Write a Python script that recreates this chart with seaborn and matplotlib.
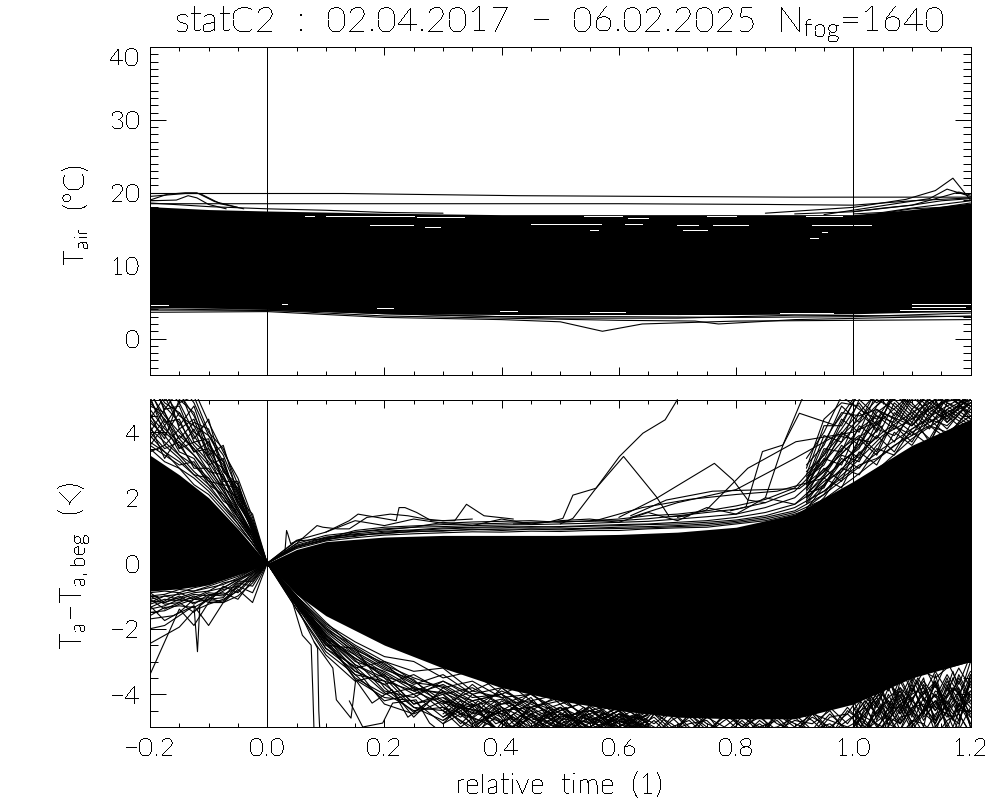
import matplotlib
matplotlib.use("Agg")
import matplotlib.pyplot as plt
import seaborn as sns
import pandas as pd
from matplotlib.ticker import MultipleLocator

sns.set_theme(style="ticks")
FONT = "Lato"
plt.rcParams.update({
    "font.family": [FONT, "DejaVu Sans"], "font.weight": 200,
    "mathtext.fontset": "custom", "mathtext.rm": "Lato:weight=200",
    "mathtext.default": "rm", "text.color": "black",
    "xtick.color": "black", "ytick.color": "black", "axes.labelcolor": "black",
    "text.antialiased": False, "axes.edgecolor": "black",
})
LW = 0.8

# ---------- top panel: air temperature ----------
band_t = [-0.2, -0.1, 0.0, 0.2, 0.4, 0.6, 0.8, 1.0, 1.1, 1.2]
band_upper = [18.1, 17.7, 17.5, 17.2, 17.0, 17.0, 17.0, 17.0, 17.7, 18.6]
band_lower = [4.3, 4.2, 4.0, 3.4, 3.3, 3.3, 3.3, 3.4, 3.6, 3.7]

air_a_t = [-0.2, 0.13, 0.43, 0.9, 1.2]
air_a_y = [19.9, 19.9, 19.6, 19.4, 19.4]
air_b_t = [-0.2, 0.6, 0.85, 1.0, 1.1, 1.2]
air_b_y = [18.5, 18.5, 18.4, 18.3, 18.9, 19.3]
air_c_t = [-0.2, -0.17, -0.14, -0.12, -0.09, -0.05]
air_c_y = [19.0, 19.8, 20.0, 20.0, 18.8, 18.0]
air_d_t = [-0.2, -0.155, -0.135, -0.12, -0.1, -0.07]
air_d_y = [18.9, 19.0, 19.6, 19.3, 18.4, 17.8]
air_e_t = [-0.2, -0.14, -0.115, -0.08, -0.04]
air_e_y = [19.5, 19.9, 19.9, 18.5, 17.8]
air_f_t = [0.85, 1.0, 1.09, 1.14, 1.17, 1.2]
air_f_y = [17.2, 18.0, 19.1, 20.3, 22.0, 19.0]
air_g_t = [0.95, 1.08, 1.13, 1.16, 1.2]
air_g_y = [17.0, 18.6, 19.2, 20.5, 19.5]
air_h_t = [1.0, 1.1, 1.15, 1.18, 1.2]
air_h_y = [17.4, 18.3, 19.4, 20.1, 19.7]
air_i_t = [-0.2, 0.0, 0.2, 0.4, 0.5, 0.572, 0.64, 0.8, 1.0, 1.2]
air_i_y = [3.6, 3.7, 2.9, 2.6, 2.3, 1.0, 2.0, 2.4, 2.5, 2.6]
air_j_t = [-0.2, 0.0, 0.2, 0.4, 0.6, 0.73, 0.77, 0.9, 1.2]
air_j_y = [3.9, 3.9, 3.1, 2.8, 2.5, 2.4, 2.0, 2.6, 3.1]
air_k_t = [-0.2, 0.0, 0.2, 0.4, 0.6, 0.8, 1.0, 1.2]
air_k_y = [4.3, 4.1, 3.4, 3.0, 3.0, 2.9, 3.0, 3.5]
air_l_t = [-0.2, 0.1, 0.3, 0.5, 0.7, 0.9, 1.1, 1.2]
air_l_y = [4.1, 3.7, 3.2, 2.8, 2.8, 3.2, 3.1, 3.0]
air_m_t = [-0.2, -0.1, 0.0, 0.1, 0.2, 0.3]
air_m_y = [18.6, 18.1, 17.8, 17.6, 17.3, 17.2]
air_n_t = [0.9, 1.0, 1.05, 1.1, 1.15, 1.2]
air_n_y = [17.1, 17.4, 17.9, 18.3, 18.9, 19.2]
air_o_t = [1.0, 1.05, 1.1, 1.15, 1.2]
air_o_y = [17.1, 17.3, 17.9, 18.4, 18.9]
air_p_t = [1.05, 1.1, 1.15, 1.2]
air_p_y = [17.2, 17.8, 18.0, 18.6]
air_q_t = [0.7, 0.9, 1.1, 1.2]
air_q_y = [3.3, 3.5, 3.7, 3.8]

white_t0 = [.175, .27, .065, .10, .255, .45, .55, .54, .615, .61, .70, .71, .76, .75, .92, .93, .946, .926,
            -.2, .025, .187, 1.1, .397, .55, .875, 1.08, 1.1]
white_t1 = [.248, .295, .08, .25, .335, .57, .565, .605, .65, .64, .735, .75, .82, .80, .98, 1.03, .955, .94,
            -.17, .034, .215, 1.2, .426, .61, .965, 1.2, 1.19]
white_y = [15.6, 15.3, 16.8, 16.8, 16.7, 15.7, 14.9, 16.8, 16.6, 15.7, 15.6, 14.9, 15.6, 16.8, 16.8, 15.6, 14.6, 13.8,
           4.66, 4.8, 4.2, 4.7, 3.8, 3.7, 3.5, 3.9, 4.3]

# ---------- bottom panel: temperature difference ----------
core_t = [-0.2, -0.15, -0.1, -0.05, 0.0, 0.05, 0.1, 0.2, 0.3, 0.4, 0.5, 0.6, 0.7, 0.8, 0.9, 1.0, 1.1, 1.2]
core_top = [3.3, 2.7, 2.0, 1.05, 0.0, 0.42, 0.66, 0.8, 0.85, 0.85, 0.85, 0.88, 0.95, 1.1, 1.5, 2.5, 3.6, 4.4]
core_bot = [-0.85, -0.78, -0.65, -0.35, 0.0, -0.95, -1.6, -2.5, -3.2, -3.8, -4.2, -4.5, -4.7, -4.75, -4.75, -4.3, -3.5, -3.0]

t_left = [-0.2, -0.175, -0.15, -0.125, -0.1, -0.075, -0.05, -0.025, 0.0]
left_upper = [
    [3.5, 3.1, 2.9, 2.4, 2.1, 1.6, 1.1, 0.6, 0],
    [3.7, 3.4, 2.9, 2.6, 2.2, 1.7, 1.2, 0.6, 0], [3.9, 3.4, 3.1, 2.7, 2.3, 1.8, 1.2, 0.6, 0],
    [4.1, 3.7, 3.3, 2.8, 2.4, 1.8, 1.3, 0.7, 0], [4.3, 3.9, 3.3, 3.0, 2.5, 2.0, 1.3, 0.7, 0],
    [4.5, 4.0, 3.6, 3.0, 2.6, 2.0, 1.4, 0.7, 0], [4.7, 4.1, 3.7, 3.3, 2.7, 2.1, 1.4, 0.8, 0],
    [4.9, 4.4, 3.8, 3.3, 2.8, 2.2, 1.5, 0.8, 0], [5.2, 4.5, 4.0, 3.5, 3.0, 2.2, 1.6, 0.8, 0],
    [5.4, 4.8, 4.3, 3.6, 3.1, 2.4, 1.6, 0.9, 0], [5.6, 4.9, 4.6, 3.9, 3.2, 2.6, 1.7, 0.9, 0],
    [5.8, 5.2, 4.5, 4.2, 3.4, 2.6, 1.9, 1.0, 0], [5.5, 5.4, 4.9, 4.0, 3.7, 2.9, 1.9, 1.0, 0],
    [5.9, 5.0, 5.2, 4.5, 3.6, 3.0, 2.1, 1.1, 0], [5.6, 4.7, 5.3, 4.2, 3.9, 3.3, 2.2, 1.2, 0],
    [5.0, 4.2, 4.9, 5.1, 4.0, 3.5, 2.4, 1.3, 0], [6.0, 5.3, 5.1, 5.3, 4.3, 3.4, 2.6, 1.4, 0],
    [4.4, 5.1, 4.2, 4.8, 3.5, 3.1, 2.0, 1.5, 0], [5.1, 3.9, 4.6, 3.8, 4.4, 2.8, 2.3, 1.1, 0],
    [3.8, 4.4, 3.5, 4.1, 3.0, 3.2, 1.8, 1.2, 0], [4.6, 3.6, 4.1, 3.4, 3.7, 2.5, 2.5, 1.0, 0],
    [3.6, 3.3, 3.0, 3.1, 2.4, 2.1, 1.5, 0.7, 0], [3.4, 3.6, 3.2, 2.7, 2.6, 1.9, 1.6, 0.8, 0],
    [4.0, 3.5, 3.7, 2.9, 2.9, 2.3, 1.4, 0.9, 0], [3.6, 4.2, 3.4, 3.2, 2.5, 2.4, 1.7, 0.8, 0],
    [4.2, 3.2, 3.9, 3.5, 2.8, 2.7, 1.6, 0.9, 0], [4.8, 4.6, 3.5, 3.7, 3.3, 2.3, 2.0, 1.0, 0],
    [5.3, 4.3, 4.4, 3.4, 3.5, 2.7, 1.8, 1.1, 0], [5.7, 5.5, 4.1, 4.4, 3.2, 2.9, 2.2, 0.9, 0],
    [4.0, 4.7, 4.8, 3.7, 3.8, 2.4, 2.3, 1.2, 0], [4.4, 3.8, 5.0, 4.6, 3.3, 3.6, 2.1, 1.0, 0],
    [6.0, 4.6, 3.8, 4.3, 4.1, 2.8, 2.4, 1.1, 0], [5.0, 5.6, 5.5, 4.9, 3.9, 3.1, 1.9, 1.3, 0],
]
left_lower = [
    [-0.9, -0.85, -0.9, -0.75, -0.65, -0.5, -0.35, -0.2, 0],
    [-1.0, -0.95, -0.8, -0.85, -0.7, -0.55, -0.4, -0.2, 0], [-1.1, -1.0, -0.95, -0.85, -0.75, -0.65, -0.45, -0.2, 0],
    [-1.15, -1.2, -1.05, -0.9, -0.85, -0.6, -0.5, -0.25, 0], [-1.25, -1.1, -1.15, -1.05, -0.85, -0.75, -0.5, -0.3, 0],
    [-1.4, -1.3, -1.1, -1.2, -1.1, -0.85, -0.55, -0.3, 0], [-1.5, -1.45, -1.25, -1.1, -1.15, -1.15, -0.65, -0.35, 0],
    [-1.3, -1.75, -1.5, -1.1, -1.05, -1.2, -0.8, -1.2, 0], [-2.45, -2.2, -1.95, -1.45, -1.25, -1.1, -0.85, -0.4, 0],
    [-3.4, -2.4, -1.4, -1.9, -1.2, -1.2, -1.0, -0.6, 0], [-2.0, -1.9, -1.6, -1.3, -1.9, -1.2, -0.7, -0.9, 0],
    [-1.1, -1.4, -1.2, -1.5, -1.0, -0.9, -1.1, -0.5, 0], [-0.9, -1.2, -1.0, -1.25, -0.95, -1.0, -0.6, -0.7, 0],
    [-1.2, -1.0, -1.1, -0.95, -1.0, -0.8, -0.7, -0.4, 0], [-1.35, -1.15, -0.9, -1.1, -0.9, -0.95, -0.75, -0.3, 0],
    [-1.0, -1.25, -1.2, -1.0, -1.2, -0.7, -0.9, -0.45, 0], [-1.6, -1.35, -1.3, -1.35, -1.1, -1.05, -0.55, -0.55, 0],
]
spike_t = [-0.2, -0.16, -0.125, -0.119, -0.115, -0.1, -0.08, 0.0]
spike_y = [-1.7, -1.6, -1.3, -2.7, -1.3, -1.1, -0.8, 0.0]

t_right = [round(0.05 * i, 2) for i in range(25)]
right_upper = [
    [0, .45, .68, .78, .86, .9, .93, .96, .95, .98, .97, 1.0, 1.0, 1.05, 1.08, 1.1, 1.2, 1.3, 1.5, 1.8, 2.4, 3.0, 3.8, 4.4, 4.9],
    [0, .5, .72, .85, .92, .96, 1.0, 1.02, 1.04, 1.05, 1.05, 1.07, 1.1, 1.12, 1.15, 1.2, 1.28, 1.4, 1.6, 2.1, 2.8, 3.5, 4.1, 4.7, 5.2],
    [0, .55, .8, .9, .98, 1.02, 1.08, 1.1, 1.12, 1.1, 1.12, 1.15, 1.18, 1.2, 1.25, 1.3, 1.4, 1.55, 1.8, 2.4, 3.2, 4.0, 4.6, 5.1, 5.4],
    [0, .6, .85, .95, 1.05, 1.1, 1.12, 1.15, 1.17, 1.18, 1.2, 1.22, 1.25, 1.28, 1.35, 1.42, 1.5, 1.7, 2.0, 2.8, 3.7, 4.4, 5.2, 5.6, 5.8],
    [0, .68, .75, 1.0, 1.1, 1.14, 1.18, 1.2, 1.22, 1.25, 1.27, 1.28, 1.3, 1.36, 1.45, 1.55, 1.65, 1.85, 2.2, 3.1, 4.1, 5.0, 5.5, 5.9, 6.0],
    [0, .7, .95, 1.3, 1.15, 1.35, 1.22, 1.26, 1.28, 1.3, 1.25, 1.3, 1.35, 1.45, 1.5, 1.6, 1.75, 1.95, 2.3, 3.3, 4.4, 5.4, 5.9, 6.0, 6.0],
    [0, .5, .7, .95, 1.02, 1.1, 1.25, 1.15, 1.35, 1.2, 1.3, 1.35, 1.25, 1.55, 1.3, 1.7, 1.5, 2.0, 1.8, 2.6, 3.4, 4.6, 4.2, 5.2, 4.8],
    [0, .48, .75, .82, .95, 1.0, 1.05, 1.08, 1.08, 1.12, 1.1, 1.13, 1.15, 1.18, 1.2, 1.25, 1.32, 1.45, 1.7, 2.2, 3.0, 3.9, 4.4, 4.9, 5.1],
    [0, .52, .78, .88, .9, .98, .98, 1.04, 1.0, 1.04, 1.02, 1.05, 1.06, 1.08, 1.12, 1.15, 1.24, 1.35, 1.55, 1.95, 2.6, 3.3, 4.0, 4.5, 5.0],
]
free_a_t = [0.0, 0.05, 0.085, 0.095, 0.12, 0.14, 0.17, 0.21, 0.24, 0.27, 0.3, 0.35]
free_a_y = [0.0, 0.6, 1.15, 1.1, 1.05, 1.05, 1.4, 1.5, 1.45, 1.35, 1.3, 1.35]
free_b_t = [0.1, 0.14, 0.155, 0.22, 0.225, 0.235, 0.255, 0.28, 0.32, 0.34, 0.37, 0.42]
free_b_y = [0.95, 1.3, 1.5, 1.3, 1.7, 1.7, 1.55, 1.3, 1.3, 1.8, 1.45, 1.35]
free_c_t = [0.03, 0.033, 0.035, 0.04, 0.06]
free_c_y = [0.3, 1.0, 0.9, 0.6, 0.75]
free_d_t = [0.42, 0.4785, 0.5045, 0.5216, 0.561, 0.601, 0.641, 0.679, 0.70]
free_d_y = [1.2, 1.25, 1.37, 2.08, 2.29, 3.26, 3.97, 4.38, 5.0]
free_e_t = [0.5, 0.5216, 0.561, 0.608, 0.664, 0.686, 0.72]
free_e_y = [1.2, 1.37, 2.29, 3.26, 2.03, 1.42, 1.45]
free_f_t = [0.6, 0.664, 0.763, 0.795, 0.82, 0.85]
free_f_y = [1.4, 1.98, 3.05, 2.54, 1.93, 1.85]
free_g_t = [0.7, 0.749, 0.82, 0.902, 0.999, 1.05]
free_g_y = [1.4, 1.62, 2.9, 3.71, 4.0, 4.4]
free_h_t = [0.79, 0.817, 0.845, 0.88, 0.912, 0.93]
free_h_y = [1.6, 1.72, 3.41, 3.61, 4.99, 5.5]
free_i_t = [0.85, 0.88, 0.908, 0.968, 0.999, 1.02]
free_i_y = [2.0, 3.61, 4.58, 4.22, 4.99, 5.5]
free_j_t = [0.62, 0.681, 0.76, 0.908, 0.96, 1.0]
free_j_y = [1.45, 1.93, 2.2, 2.28, 3.0, 3.7]
free_k_t = [0.62, 0.7, 0.8, 0.9, 0.97, 1.03]
free_k_y = [1.4, 1.85, 2.25, 3.2, 3.9, 3.7]
free_l_t = [0.56, 0.64, 0.72, 0.8, 0.87, 0.95, 1.05]
free_l_y = [1.3, 1.7, 1.95, 2.1, 2.2, 2.6, 4.2]
drop_a_t = [0.0, 0.04, 0.06, 0.075, 0.078, 0.08]
drop_a_y = [0.0, -1.0, -2.2, -2.5, -4.0, -5.2]
drop_b_t = [0.0, 0.05, 0.08, 0.086, 0.088, 0.09]
drop_b_y = [0.0, -1.3, -2.4, -2.6, -4.5, -5.2]
free_m_t = [0.08, 0.112, 0.118, 0.143, 0.151, 0.179, 0.213, 0.24, 0.27]
free_m_y = [-2.4, -3.2, -4.17, -4.73, -3.56, -4.27, -3.86, -4.7, -4.3]
free_n_t = [0.14, 0.163, 0.197, 0.214, 0.254, 0.277, 0.3]
free_n_y = [-4.2, -5.0, -4.88, -4.27, -4.17, -4.88, -5.2]

t_low = [round(0.05 * i, 2) for i in range(14)]
lower_fringe = [
    [0, -1.0, -1.85, -2.4, -2.85, -3.0, -3.5, -3.3, -4.0, -3.6, -4.3, -4.0, -4.7, -4.3],
    [0, -1.0, -1.9, -2.5, -3.0, -3.3, -3.2, -3.9, -3.5, -4.2, -4.0, -4.5, -4.3, -4.9],
    [0, -1.05, -2.0, -2.55, -3.1, -3.5, -3.8, -3.6, -4.1, -4.0, -4.5, -4.2, -4.9, -4.5],
    [0, -1.1, -2.05, -2.7, -3.2, -3.7, -3.4, -4.0, -3.8, -4.4, -4.1, -4.8, -4.4, -5.2],
    [0, -1.2, -2.1, -2.8, -3.35, -3.9, -3.6, -4.1, -4.0, -4.6, -4.3, -5.1, -4.6, -5.0],
    [0, -1.1, -2.2, -3.0, -3.3, -3.8, -4.0, -3.8, -4.3, -4.2, -4.8, -4.4, -5.2, -4.7],
    [0, -1.2, -2.3, -2.8, -3.5, -4.0, -3.7, -4.2, -4.0, -4.5, -4.0, -4.9, -4.5, -5.3],
    [0, -1.3, -2.2, -3.1, -3.6, -3.9, -4.3, -3.9, -4.1, -4.7, -4.4, -5.2, -4.7, -5.1],
    [0, -1.25, -2.35, -2.9, -3.4, -4.3, -4.1, -4.5, -4.6, -4.1, -5.1, -4.6, -5.3, -4.9],
    [0, -1.3, -2.5, -2.6, -3.8, -4.55, -3.9, -4.2, -4.0, -4.9, -4.4, -5.3, -4.8, -5.2],
    [0, -1.4, -2.7, -3.4, -4.2, -4.0, -4.7, -4.2, -4.9, -5.2, -4.6, -5.0, -5.3, -5.0],
    [0, -1.1, -2.4, -3.2, -3.0, -3.6, -4.2, -4.4, -3.9, -4.3, -4.7, -4.5, -5.0, -4.6],
    [0, -1.15, -2.25, -3.3, -3.7, -3.4, -3.9, -4.6, -4.3, -4.0, -4.6, -5.0, -4.5, -5.1],
    [0, -1.2, -2.15, -2.95, -3.9, -4.1, -3.6, -4.0, -4.5, -4.4, -4.2, -4.7, -5.1, -4.6],
    [0, -1.05, -2.3, -3.1, -3.5, -4.4, -4.5, -3.7, -4.4, -4.8, -4.5, -4.2, -4.8, -5.2],
    [0, -1.0, -2.0, -2.75, -3.25, -3.55, -4.4, -4.7, -3.8, -4.5, -4.9, -4.6, -4.3, -4.9],
    [0, -0.9, -1.8, -2.6, -3.15, -3.65, -3.75, -4.3, -4.7, -3.95, -4.75, -4.85, -4.4, -4.55],
    [0, -1.3, -2.6, -3.3, -3.7, -4.4, -4.8, -4.3, -5.2, -4.6, -5.0, -4.4, -5.2, -4.8],
    [0, -1.2, -2.4, -3.5, -4.0, -3.8, -4.5, -5.0, -4.4, -5.3, -4.7, -4.5, -5.1, -4.5],
    [0, -1.4, -2.8, -3.6, -3.4, -4.3, -4.0, -4.7, -5.1, -4.4, -4.9, -5.2, -4.6, -4.8],
    [0, -1.1, -2.5, -3.2, -4.3, -4.6, -4.2, -4.9, -4.5, -5.0, -4.4, -4.8, -5.3, -4.6],
    [0, -1.25, -2.45, -3.4, -3.6, -4.7, -3.8, -4.4, -5.2, -4.7, -5.2, -4.5, -4.7, -5.0],
    [0, -1.3, -2.3, -3.55, -4.1, -4.2, -4.9, -4.0, -4.6, -5.1, -4.6, -4.9, -4.5, -5.2],
    [0, -1.15, -2.6, -3.15, -3.95, -4.5, -4.4, -5.1, -4.2, -4.8, -5.3, -4.7, -5.0, -4.4],
    [0, -1.0, -2.2, -2.9, -3.45, -3.75, -4.25, -4.55, -4.85, -4.25, -4.55, -5.05, -4.75, -5.25],
    [0, -1.1, -1.95, -2.65, -3.05, -3.85, -3.95, -4.35, -4.15, -4.65, -5.05, -4.35, -4.85, -4.65],
]

t_mesh = [round(0.3 + 0.03 * i, 2) for i in range(31)]
bottom_mesh = [
    [-4.3, -4.9, -4.4, -5.2, -4.6, -5.1, -4.5, -5.3, -4.7, -5.0, -4.6, -5.2, -4.8, -5.3, -4.6, -5.1, -4.7, -5.2, -4.9, -5.3, -4.6, -5.1, -4.4, -4.9, -4.2, -4.8, -4.1, -4.7, -4.0, -4.6, -4.2],
    [-4.6, -4.2, -5.0, -4.5, -5.2, -4.6, -5.1, -4.7, -5.3, -4.6, -5.2, -4.7, -5.3, -4.7, -5.2, -4.6, -5.3, -4.8, -5.3, -4.7, -5.2, -4.5, -5.1, -4.4, -5.0, -4.3, -4.9, -4.2, -4.8, -4.1, -4.7],
    [-4.0, -4.6, -4.8, -4.3, -4.9, -5.2, -4.6, -5.0, -4.5, -5.3, -4.8, -4.6, -5.1, -4.5, -5.0, -5.2, -4.6, -5.0, -4.7, -5.1, -4.8, -4.9, -4.5, -5.2, -4.6, -4.0, -4.6, -3.9, -4.5, -3.8, -4.4],
    [-4.8, -4.4, -4.5, -5.1, -4.4, -4.8, -5.3, -4.6, -5.1, -4.8, -4.5, -5.3, -4.6, -4.9, -5.3, -4.7, -5.0, -4.6, -5.2, -4.6, -5.0, -5.3, -4.7, -4.6, -5.1, -4.7, -3.9, -4.8, -3.7, -5.0, -3.6],
    [-4.4, -4.7, -4.2, -4.7, -5.0, -4.4, -4.9, -5.2, -4.6, -5.0, -5.3, -4.7, -5.0, -5.2, -4.6, -5.0, -5.2, -4.7, -5.0, -4.8, -5.3, -4.6, -5.2, -4.8, -4.4, -5.2, -4.5, -3.6, -5.2, -3.5, -4.9],
    [-4.2, -4.4, -4.9, -4.6, -4.3, -5.0, -4.7, -4.4, -5.2, -4.7, -4.9, -5.1, -4.5, -5.0, -4.8, -5.3, -4.6, -4.9, -5.3, -4.6, -4.9, -5.1, -4.9, -5.3, -4.5, -3.9, -5.1, -4.2, -3.6, -4.8, -3.4],
    [-4.5, -5.0, -4.6, -4.2, -4.8, -4.5, -5.2, -4.8, -4.4, -5.1, -4.6, -4.9, -5.3, -4.8, -4.5, -4.9, -5.1, -5.3, -4.8, -5.2, -4.5, -4.8, -5.3, -4.5, -4.9, -5.2, -3.8, -4.4, -4.9, -3.3, -5.0],
    [-4.7, -4.3, -5.1, -4.7, -5.2, -4.2, -4.6, -5.1, -4.8, -4.5, -5.0, -4.6, -4.9, -4.5, -5.1, -4.7, -4.5, -5.0, -4.5, -4.9, -5.1, -4.7, -5.0, -4.6, -3.8, -4.6, -4.9, -3.5, -4.4, -4.7, -3.0],
    [-4.1, -4.5, -5.2, -4.4, -5.1, -4.7, -5.0, -4.5, -4.9, -5.3, -4.7, -5.0, -4.7, -5.2, -4.7, -5.2, -4.8, -4.5, -5.1, -5.0, -4.7, -5.2, -4.6, -5.1, -5.2, -4.4, -5.2, -4.7, -4.2, -5.2, -3.9],
    [-4.9, -4.6, -4.3, -4.9, -4.7, -5.2, -4.4, -4.9, -5.0, -4.6, -5.1, -5.3, -4.6, -5.1, -4.9, -4.8, -5.3, -5.1, -4.6, -5.3, -5.0, -4.6, -4.8, -5.0, -4.7, -5.0, -4.3, -5.1, -5.0, -4.3, -5.2],
]
t_end = [1.0, 1.02, 1.04, 1.06, 1.08, 1.1, 1.12, 1.14, 1.16, 1.18, 1.2]
end_lower = [
    [-4.0, -3.4, -3.2, -3.9, -3.0, -3.6, -3.1, -3.8, -3.0, -3.7, -2.8],
    [-4.2, -3.8, -4.3, -3.6, -4.1, -3.4, -4.0, -3.3, -3.9, -3.2, -3.8],
    [-4.5, -4.0, -3.6, -4.4, -3.5, -4.2, -3.6, -4.1, -3.4, -4.0, -3.3],
    [-3.9, -4.4, -4.0, -3.5, -4.5, -3.8, -4.4, -3.7, -4.3, -3.5, -4.2],
    [-4.7, -4.2, -4.6, -4.1, -3.8, -4.6, -3.9, -4.5, -3.8, -4.4, -3.7],
    [-5.0, -4.6, -4.1, -4.8, -4.3, -4.1, -4.8, -4.2, -4.7, -4.0, -4.6],
    [-4.4, -5.1, -4.5, -4.2, -4.9, -4.4, -4.3, -4.9, -4.2, -4.8, -4.0],
    [-5.2, -4.4, -5.0, -4.6, -4.2, -5.0, -4.5, -4.0, -5.0, -4.3, -4.9],
    [-4.8, -5.3, -4.3, -5.2, -4.7, -4.6, -5.2, -4.6, -4.4, -5.1, -4.4],
    [-5.3, -4.8, -5.2, -4.7, -5.3, -4.8, -4.9, -5.3, -4.8, -4.6, -5.2],
    [-3.7, -3.3, -3.4, -3.7, -3.2, -3.9, -3.3, -3.5, -3.2, -3.1, -3.0],
    [-4.1, -3.6, -4.1, -3.4, -4.4, -3.5, -4.2, -3.6, -4.5, -3.4, -4.1],
    [-4.6, -4.8, -3.9, -4.5, -4.0, -4.9, -4.1, -4.7, -3.7, -4.6, -3.5],
    [-4.3, -3.9, -4.7, -3.8, -4.6, -3.7, -4.6, -3.9, -4.1, -3.6, -4.3],
    [-4.9, -4.3, -3.7, -4.3, -3.9, -4.7, -3.7, -4.4, -3.6, -4.2, -3.9],
    [-3.8, -4.1, -4.4, -3.6, -4.2, -4.0, -3.8, -4.8, -4.0, -3.8, -4.7],
    [-4.4, -4.7, -3.5, -5.0, -3.6, -4.3, -5.0, -3.4, -4.6, -4.9, -3.6],
    [-5.1, -3.7, -4.8, -4.0, -4.8, -3.6, -4.7, -4.3, -3.5, -4.5, -4.5],
    [-4.6, -5.2, -4.2, -4.9, -5.1, -4.2, -3.5, -5.0, -4.5, -3.9, -5.0],
    [-4.2, -4.9, -5.1, -4.4, -4.4, -5.1, -4.6, -3.6, -5.2, -5.0, -3.4],
]
t_top_end = [0.92, 0.95, 0.98, 1.01, 1.04, 1.07, 1.1, 1.13, 1.16, 1.2]
end_upper = [
    [1.9, 2.2, 2.6, 3.0, 3.2, 3.6, 3.9, 4.2, 4.0, 4.5],
    [2.0, 2.5, 2.8, 3.3, 3.9, 3.4, 4.3, 3.8, 4.7, 4.2],
    [1.8, 2.4, 3.2, 2.9, 3.6, 4.2, 3.7, 4.6, 4.1, 5.0],
    [2.2, 2.9, 2.5, 3.8, 3.3, 4.4, 4.0, 3.6, 4.9, 4.4],
    [2.1, 2.7, 3.6, 3.2, 4.3, 3.7, 4.7, 4.2, 3.8, 4.8],
    [2.4, 3.2, 3.0, 4.2, 3.8, 4.9, 4.4, 5.0, 4.5, 3.9],
    [2.6, 3.0, 4.0, 3.6, 4.7, 4.2, 3.9, 4.8, 4.3, 5.2],
    [2.3, 3.5, 3.4, 4.6, 4.1, 5.2, 4.6, 4.1, 5.1, 4.6],
    [2.8, 3.3, 4.4, 4.0, 5.2, 4.5, 5.3, 4.7, 4.4, 5.3],
    [2.5, 3.9, 3.7, 5.0, 4.5, 4.1, 5.0, 5.3, 4.8, 4.3],
    [3.0, 3.6, 4.8, 4.3, 5.3, 4.8, 4.3, 5.1, 5.3, 4.7],
    [2.7, 4.2, 4.2, 5.3, 4.9, 5.3, 4.8, 4.5, 5.0, 5.3],
    [3.2, 4.0, 5.1, 4.7, 4.4, 5.2, 5.3, 5.0, 4.6, 5.0],
    [1.7, 2.1, 2.9, 2.7, 3.5, 3.3, 4.1, 4.4, 3.9, 4.7],
    [1.95, 2.6, 2.3, 3.4, 3.0, 4.0, 3.6, 4.4, 4.2, 4.9],
    [2.15, 2.3, 3.3, 3.1, 4.1, 3.9, 4.5, 3.7, 4.6, 4.1],
    [2.35, 2.8, 3.5, 3.9, 3.4, 4.6, 4.2, 4.9, 4.4, 5.1],
    [1.5, 2.0, 2.8, 3.8, 4.8, 5.3, 4.7, 5.2, 4.9, 4.6],
    [1.65, 2.35, 3.1, 3.5, 4.6, 5.0, 5.3, 4.4, 5.2, 4.8],
    [1.85, 2.65, 3.45, 4.1, 4.5, 4.3, 5.1, 5.2, 4.5, 5.2],
    [2.05, 3.1, 3.9, 4.4, 5.0, 4.7, 4.2, 4.7, 5.3, 4.4],
    [2.25, 3.4, 4.1, 4.9, 4.2, 5.1, 4.9, 4.3, 4.7, 5.1],
    [2.45, 3.7, 4.6, 4.5, 4.7, 4.4, 5.2, 4.9, 5.2, 4.5],
    [2.65, 3.15, 4.3, 5.2, 5.1, 5.0, 4.5, 5.3, 4.3, 4.9],
    [2.9, 4.4, 4.9, 4.8, 4.0, 5.3, 5.1, 4.6, 5.0, 5.2],
]

x_ticks = [-0.2, 0.0, 0.2, 0.4, 0.6, 0.8, 1.0, 1.2]
x_labels = ["\u22120.2", "0.0", "0.2", "0.4", "0.6", "0.8", "1.0", "1.2"]
y1_ticks = [0, 10, 20, 30, 40]
y2_ticks = [-4, -2, 0, 2, 4]
y2_labels = ["\u22124", "\u22122", "0", "2", "4"]
title_text = "statC2  :  02.04.2017  \u2212  06.02.2025  N$_{fog}$=1640"


def draw(ax, groups):
    rows = []
    for uid, (xs, ys) in enumerate(groups):
        rows.append(pd.DataFrame({"t": xs, "v": ys, "trace": uid}))
    df = pd.concat(rows, ignore_index=True)
    sns.lineplot(data=df, x="t", y="v", units="trace", estimator=None, sort=False,
                 color="black", linewidth=LW, antialiased=True, legend=False, ax=ax)


fig = plt.figure(figsize=(10, 8), dpi=100, facecolor="white")
ax1 = fig.add_axes([0.150, 1 - 375 / 800, 0.8205, 328 / 800])
ax2 = fig.add_axes([0.150, 1 - 727 / 800, 0.8205, 327.5 / 800])

ax1.fill_between(band_t, band_lower, band_upper, color="black", lw=0, antialiased=False)
draw(ax1, [(air_a_t, air_a_y), (air_b_t, air_b_y), (air_c_t, air_c_y), (air_d_t, air_d_y),
           (air_e_t, air_e_y), (air_f_t, air_f_y), (air_g_t, air_g_y), (air_h_t, air_h_y),
           (air_i_t, air_i_y), (air_j_t, air_j_y), (air_k_t, air_k_y), (air_l_t, air_l_y),
           (air_m_t, air_m_y), (air_n_t, air_n_y), (air_o_t, air_o_y), (air_p_t, air_p_y),
           (air_q_t, air_q_y)])
ax1.hlines(white_y, white_t0, white_t1, color="white", lw=0.72, antialiased=False)

ax2.fill_between(core_t, core_bot, core_top, color="black", lw=0, antialiased=False)
groups2 = [(t_left, r) for r in left_upper + left_lower]
groups2 += [(t_right, r) for r in right_upper]
groups2 += [(t_low, r) for r in lower_fringe]
groups2 += [(t_mesh, r) for r in bottom_mesh]
groups2 += [(t_end, r) for r in end_lower]
groups2 += [(t_top_end, r) for r in end_upper]
groups2 += [(spike_t, spike_y), (free_a_t, free_a_y), (free_b_t, free_b_y), (free_c_t, free_c_y),
            (free_d_t, free_d_y), (free_e_t, free_e_y), (free_f_t, free_f_y), (free_g_t, free_g_y),
            (free_h_t, free_h_y), (free_i_t, free_i_y), (free_j_t, free_j_y), (free_k_t, free_k_y),
            (free_l_t, free_l_y), (drop_a_t, drop_a_y), (drop_b_t, drop_b_y), (free_m_t, free_m_y),
            (free_n_t, free_n_y)]
draw(ax2, groups2)

for ax in (ax1, ax2):
    ax.set_xlim(-0.2, 1.2)
    ax.axvline(0.0, color="black", lw=0.72, antialiased=False)
    ax.axvline(1.0, color="black", lw=0.72, antialiased=False)
    ax.set_xticks(x_ticks)
    ax.xaxis.set_minor_locator(MultipleLocator(0.05))
    ax.tick_params(axis="x", which="major", direction="in", top=True, bottom=True, length=5.8, width=0.72)
    ax.tick_params(axis="x", which="minor", direction="in", top=True, bottom=True, length=2.9, width=0.72)
    ax.tick_params(axis="y", which="major", direction="in", left=True, right=True, length=11.5, width=0.72)
    ax.tick_params(axis="y", which="minor", direction="in", left=True, right=True, length=5.8, width=0.72)
    ax.tick_params(labelsize=19, pad=7)
    for s in ax.spines.values():
        s.set_linewidth(0.72)
        s.set_antialiased(False)
    ax.set_xlabel("")
    ax.set_ylabel("")

ax1.set_ylim(-5, 40)
ax1.set_yticks(y1_ticks)
ax1.yaxis.set_minor_locator(MultipleLocator(1))
ax1.set_xticklabels([])
ax1.get_yticklabels()[-1].set_va("top")

ax2.set_ylim(-5, 5)
ax2.set_yticks(y2_ticks)
ax2.set_yticklabels(y2_labels)
ax2.yaxis.set_minor_locator(MultipleLocator(0.5))
ax2.set_xticklabels(x_labels)

fig.text(0.5595, 1 - 25 / 800, title_text, ha="center", va="center", fontsize=26)
fig.text(0.5595, 1 - 786 / 800, "relative  time  (1)", ha="center", va="center", fontsize=21)
fig.text(0.076, 1 - 215 / 800, "T$_{air}$  (\u00b0C)", rotation=90, ha="center", va="center", fontsize=21)
fig.text(0.074, 1 - 566 / 800, "T$_{a}$\u2212T$_{a,beg}$  (K)", rotation=90, ha="center", va="center", fontsize=22)

fig.savefig("out.png", dpi=100, facecolor="white")
